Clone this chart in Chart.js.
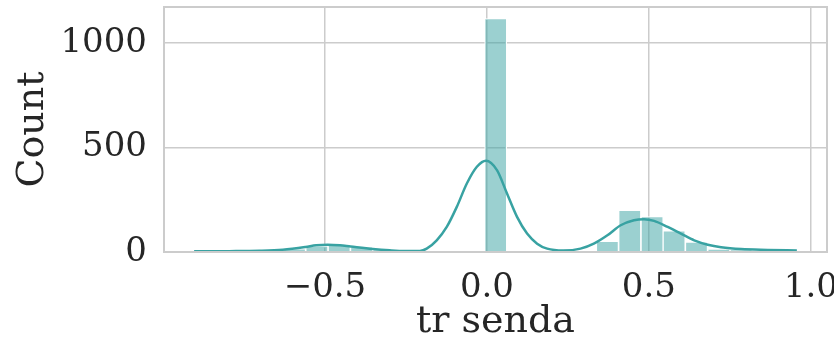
<!DOCTYPE html>
<html>
<head>
<meta charset="utf-8">
<script src="https://cdn.jsdelivr.net/npm/chart.js@4"></script>
<style>
  html, body { margin: 0; padding: 0; background: #ffffff; }
  #c { display: block; }
</style>
</head>
<body>
<canvas id="c" width="834" height="341"></canvas>
<script>
// Histogram bins (centers) and counts
const binCenters = [-0.870, -0.801, -0.732, -0.663, -0.594, -0.525, -0.456, -0.387, -0.318,
  -0.249, -0.180, -0.111, -0.042, 0.027, 0.096, 0.165, 0.234, 0.303, 0.372, 0.441, 0.510,
  0.578, 0.647, 0.716, 0.785, 0.854, 0.923];
const binCounts = [2, 2, 3, 7, 15, 28, 35, 25, 10, 4, 2, 1, 1, 1117, 0, 0, 0, 0, 51, 199, 170,
  101, 48, 14, 11, 5, 3];

// KDE curve (scaled to counts)
const kdeX = [-0.904, -0.795, -0.702, -0.630, -0.560, -0.527, -0.492, -0.454, -0.421, -0.352,
  -0.300, -0.253, -0.207, -0.186, -0.155, -0.124, -0.093, -0.062, -0.031, -0.003, 0.031, 0.062,
  0.093, 0.124, 0.155, 0.186, 0.236, 0.289, 0.330, 0.372, 0.413, 0.454, 0.485, 0.516, 0.558,
  0.599, 0.640, 0.682, 0.723, 0.785, 0.867, 0.957];
const kdeY = [3, 4, 6, 11, 24, 32, 35, 32, 26, 14, 8, 5, 5, 16, 56, 120, 216, 328, 408, 437,
  392, 280, 168, 88, 40, 16, 7, 16, 40, 80, 128, 152, 157, 149, 120, 88, 56, 35, 23, 14, 10, 7];

const xTicks = [-0.5, 0.0, 0.5, 1.0];
const yTicks = [0, 500, 1000];
const xLabel = 'tr senda';
const yLabel = 'Count';

const lineColor = 'rgb(56,162,162)';
const barColor = 'rgba(56,162,162,0.5)';
const gridColor = '#cccccc';
const textColor = '#262626';
const fontFamily = '"DejaVu Serif", serif';

const framePlugin = {
  id: 'frame',
  afterDatasetsDraw(chart) {
    const a = chart.chartArea, ctx = chart.ctx;
    ctx.save();
    ctx.strokeStyle = gridColor;
    ctx.lineWidth = 2;
    ctx.strokeRect(a.left, a.top, a.right - a.left, a.bottom - a.top);
    ctx.restore();
  }
};

const fmt = v => {
  const s = Math.abs(v).toFixed(1);
  return v < -1e-9 ? '\u2212' + s : s;
};

new Chart(document.getElementById('c'), {
  type: 'bar',
  data: {
    datasets: [
      {
        type: 'line',
        data: kdeX.map((x, i) => ({ x: x, y: kdeY[i] })),
        borderColor: lineColor,
        borderWidth: 2.5,
        pointRadius: 0,
        fill: false,
        cubicInterpolationMode: 'monotone',
        order: 0
      },
      {
        type: 'bar',
        data: binCenters.map((x, i) => ({ x: x, y: binCounts[i] })),
        backgroundColor: barColor,
        borderColor: '#ffffff',
        borderWidth: 1,
        barPercentage: 1,
        categoryPercentage: 1,
        order: 1
      }
    ]
  },
  options: {
    responsive: false,
    animation: false,
    devicePixelRatio: 1,
    layout: { padding: { left: 0, right: 7, top: 7, bottom: 0 } },
    plugins: { legend: { display: false }, tooltip: { enabled: false } },
    scales: {
      x: {
        type: 'linear',
        offset: false,
        min: -0.997,
        max: 1.05,
        afterBuildTicks(scale) { scale.ticks = xTicks.map(v => ({ value: v })); },
        afterFit(scale) { scale.height = 89; scale.paddingLeft = 0; scale.paddingRight = 0; },
        ticks: {
          autoSkip: false, maxRotation: 0, padding: 16,
          color: textColor,
          font: { family: fontFamily, size: 34 },
          callback: v => fmt(v)
        },
        grid: { color: gridColor, lineWidth: 1.5, drawTicks: false, offset: false },
        border: { display: false },
        title: {
          display: true, text: xLabel, color: textColor,
          font: { family: fontFamily, size: 38, lineHeight: 1.0 },
          padding: { top: 0, bottom: 0 }
        }
      },
      y: {
        type: 'linear',
        min: 0,
        max: 1173,
        afterBuildTicks(scale) { scale.ticks = yTicks.map(v => ({ value: v })); },
        afterFit(scale) { scale.width = 164; scale.paddingTop = 0; scale.paddingBottom = 0; },
        ticks: {
          autoSkip: false, padding: 17,
          color: textColor,
          font: { family: fontFamily, size: 34 },
          callback: v => String(v)
        },
        grid: { color: gridColor, lineWidth: 1.5, drawTicks: false },
        border: { display: false },
        title: {
          display: true, text: yLabel, color: textColor,
          font: { family: fontFamily, size: 38, lineHeight: 1.0 },
          padding: { top: 14, bottom: 0 }
        }
      }
    }
  },
  plugins: [framePlugin]
});
</script>
</body>
</html>
